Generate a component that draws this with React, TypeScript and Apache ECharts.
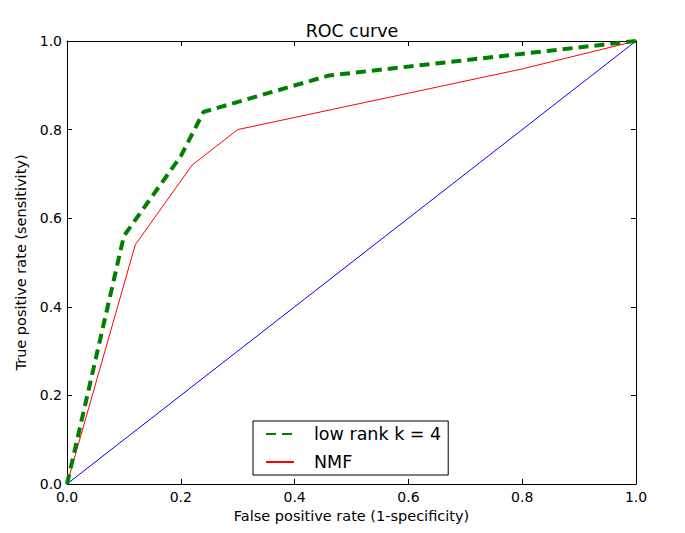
import React, { useEffect, useRef } from "react";
import * as echarts from "echarts";

const lowRankFpr = [0, 0.1, 0.2, 0.24, 0.46, 1];
const lowRankTpr = [0, 0.56, 0.74, 0.84, 0.922, 1];
const nmfFpr = [0, 0.12, 0.22, 0.3, 0.8, 1];
const nmfTpr = [0, 0.54, 0.72, 0.8, 0.937, 1];
const chanceFpr = [0, 1];
const chanceTpr = [0, 1];

const seriesNames = ["low rank k = 4", "NMF"];
const titleText = "ROC curve";
const xName = "False positive rate (1-specificity)";
const yName = "True positive rate (sensitivity)";

const FONT = "DejaVu Sans";

const zip = (xs: number[], ys: number[]) => xs.map((x, i) => [x, ys[i]]);

export default function App() {
  const ref = useRef<HTMLDivElement>(null);
  useEffect(() => {
    if (!ref.current) return;
    const chart = echarts.init(ref.current, undefined, { renderer: "svg" });
    const tickStyle = {
      show: true,
      inside: true,
      length: 5,
      lineStyle: { color: "#000", width: 1 },
    };
    const axisLine = { show: true, onZero: false, lineStyle: { color: "#000", width: 1 } };
    const labelStyle = {
      fontFamily: FONT,
      fontSize: 14,
      color: "#000",
      formatter: (v: number) => v.toFixed(1),
    };
    chart.setOption({
      animation: false,
      backgroundColor: "#fff",
      title: {
        text: titleText,
        left: 347,
        textAlign: "center",
        top: 17,
        textStyle: { fontFamily: FONT, fontSize: 17.5, fontWeight: "normal", color: "#000" },
      },
      grid: { left: 67, right: 49, top: 41, bottom: 49 },
      legend: {
        data: seriesNames,
        orient: "vertical",
        left: 253,
        top: 421,
        padding: [4, 7, 4, 12],
        itemGap: 10,
        itemWidth: 28,
        itemHeight: 17,
        borderColor: "#000",
        borderWidth: 1,
        borderRadius: 0,
        backgroundColor: "#fff",
        itemStyle: { opacity: 0 },
        textStyle: {
          fontFamily: FONT,
          fontSize: 17.5,
          color: "#000",
          padding: [0, 0, 0, 15],
        },
      },
      xAxis: [
        {
          type: "value",
          min: 0,
          max: 1,
          interval: 0.2,
          position: "bottom",
          name: xName,
          nameLocation: "middle",
          nameGap: 17,
          nameTextStyle: { fontFamily: FONT, fontSize: 14.5, color: "#000", verticalAlign: "top" },
          axisLine,
          axisTick: tickStyle,
          axisLabel: { ...labelStyle, margin: 6 },
          splitLine: { show: false },
        },
        {
          type: "value",
          min: 0,
          max: 1,
          interval: 0.2,
          position: "top",
          axisLine,
          axisTick: tickStyle,
          axisLabel: { show: false },
          splitLine: { show: false },
        },
      ],
      yAxis: [
        {
          type: "value",
          min: 0,
          max: 1,
          interval: 0.2,
          position: "left",
          name: yName,
          nameLocation: "middle",
          nameGap: 35,
          nameTextStyle: { fontFamily: FONT, fontSize: 14.5, color: "#000" },
          axisLine,
          axisTick: tickStyle,
          axisLabel: { ...labelStyle, margin: 5 },
          splitLine: { show: false },
        },
        {
          type: "value",
          min: 0,
          max: 1,
          interval: 0.2,
          position: "right",
          axisLine,
          axisTick: tickStyle,
          axisLabel: { show: false },
          splitLine: { show: false },
        },
      ],
      series: [
        {
          name: "chance",
          type: "line",
          data: zip(chanceFpr, chanceTpr),
          symbol: "none",
          lineStyle: { color: "#0000ff", width: 1 },
          z: 1,
        },
        {
          name: seriesNames[1],
          type: "line",
          data: zip(nmfFpr, nmfTpr),
          symbol: "none",
          itemStyle: { color: "#ff0000" },
          lineStyle: { color: "#ff0000", width: 1 },
          z: 2,
        },
        {
          name: seriesNames[0],
          type: "line",
          data: zip(lowRankFpr, lowRankTpr),
          symbol: "none",
          itemStyle: { color: "#007f00" },
          lineStyle: { color: "#007f00", width: 4, type: [10, 6] },
          z: 3,
        },
      ],
    });
    return () => chart.dispose();
  }, []);
  return (
    <div
      ref={ref}
      style={{ position: "absolute", left: 0, top: 0, width: 685, height: 533, background: "#fff" }}
    />
  );
}
